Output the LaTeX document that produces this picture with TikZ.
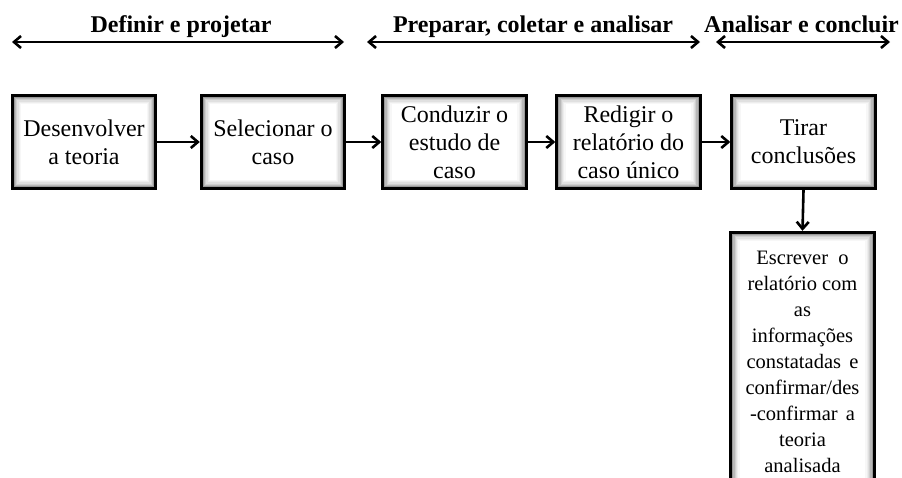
\documentclass[tikz,border=0pt]{standalone}
\usepackage{fontspec}
\setmainfont{Liberation Serif}
\newfontfamily\tnr{Liberation Serif}
\usetikzlibrary{arrows.meta,backgrounds}
\tikzset{
  stagebox/.style={rectangle, align=center, minimum width=146pt, minimum height=96pt,
    inner sep=2pt, font=\tnr\fontsize{24}{28}\selectfont},
  flow/.style={line width=2.6pt, -{Straight Barb[length=7pt,width=12pt,line width=2.6pt]}},
  span/.style={line width=2.6pt, {Straight Barb[length=7pt,width=12pt,line width=2.6pt]}-{Straight Barb[length=7pt,width=12pt,line width=2.6pt]}},
  title/.style={anchor=base, inner sep=0pt, font=\tnr\bfseries\fontsize{24}{28}\selectfont}
}
\begin{document}
\begin{tikzpicture}[x=1pt,y=-1pt]
\useasboundingbox (0,0) rectangle (902,477);
\clip (0,0) rectangle (902,477);

% titles
\node[title] (t1) at (181,32) {Definir e projetar};
\node[title] (t2) at (533,32) {Preparar, coletar e analisar};
\node[title] (t3) at (801.5,32) {Analisar e concluir};

% phase arrows
\coordinate (a1l) at (12,42); \coordinate (a1r) at (344,42);
\coordinate (a2l) at (367,42); \coordinate (a2r) at (700,42);
\coordinate (a3l) at (716,42); \coordinate (a3r) at (890,42);
\draw[span] (a1l) -- (a1r);
\draw[span] (a2l) -- (a2r);
\draw[span] (a3l) -- (a3r);

% boxes
\node[stagebox] (b1) at (84,142) {Desenvolver\\a teoria};
\node[stagebox] (b2) at (273,142) {Selecionar o\\caso};
\node[stagebox] (b3) at (454.5,142) {Conduzir o\\estudo de\\caso};
\node[stagebox] (b4) at (628.5,142) {Redigir o\\relatório do\\caso único};
\node[stagebox] (b5) at (803.5,142) {Tirar\\conclusões};
\node[stagebox, minimum height=262pt, font=\tnr\fontsize{20.5}{26}\selectfont] (b6) at (802.5,362)
  {Escrever\hspace{0.5em}o\\relatório com\\as\\informações\\constatadas\hspace{0.4em}e\\confirmar/des\\-confirmar\hspace{0.4em}a\\teoria\\analisada};

% glow and frames behind the text
\begin{scope}[on background layer]
  \foreach \bx in {b1,b2,b3,b4,b5,b6}{
    \foreach \stp/\shd in {1/40,2/28,3/19,4/12,5/7,6/3}{
      \draw[black!\shd, line width=1.3pt]
        ([shift={(\stp*1.25pt+2.2pt,-\stp*1.25pt-2.2pt)}]\bx.north west)
        rectangle
        ([shift={(-\stp*1.25pt-2.2pt,\stp*1.25pt+2.2pt)}]\bx.south east);
    }
    \draw[black, line width=3pt]
      ([shift={(1.5pt,-1.5pt)}]\bx.north west) rectangle ([shift={(-1.5pt,1.5pt)}]\bx.south east);
  }
\end{scope}

% connectors
\draw[flow] (b1.east) -- (b2.west);
\draw[flow] (b2.east) -- (b3.west);
\draw[flow] (b3.east) -- (b4.west);
\draw[flow] (b4.east) -- (b5.west);
\draw[flow] (b5.south) -- (b6.north);
\end{tikzpicture}
\end{document}
